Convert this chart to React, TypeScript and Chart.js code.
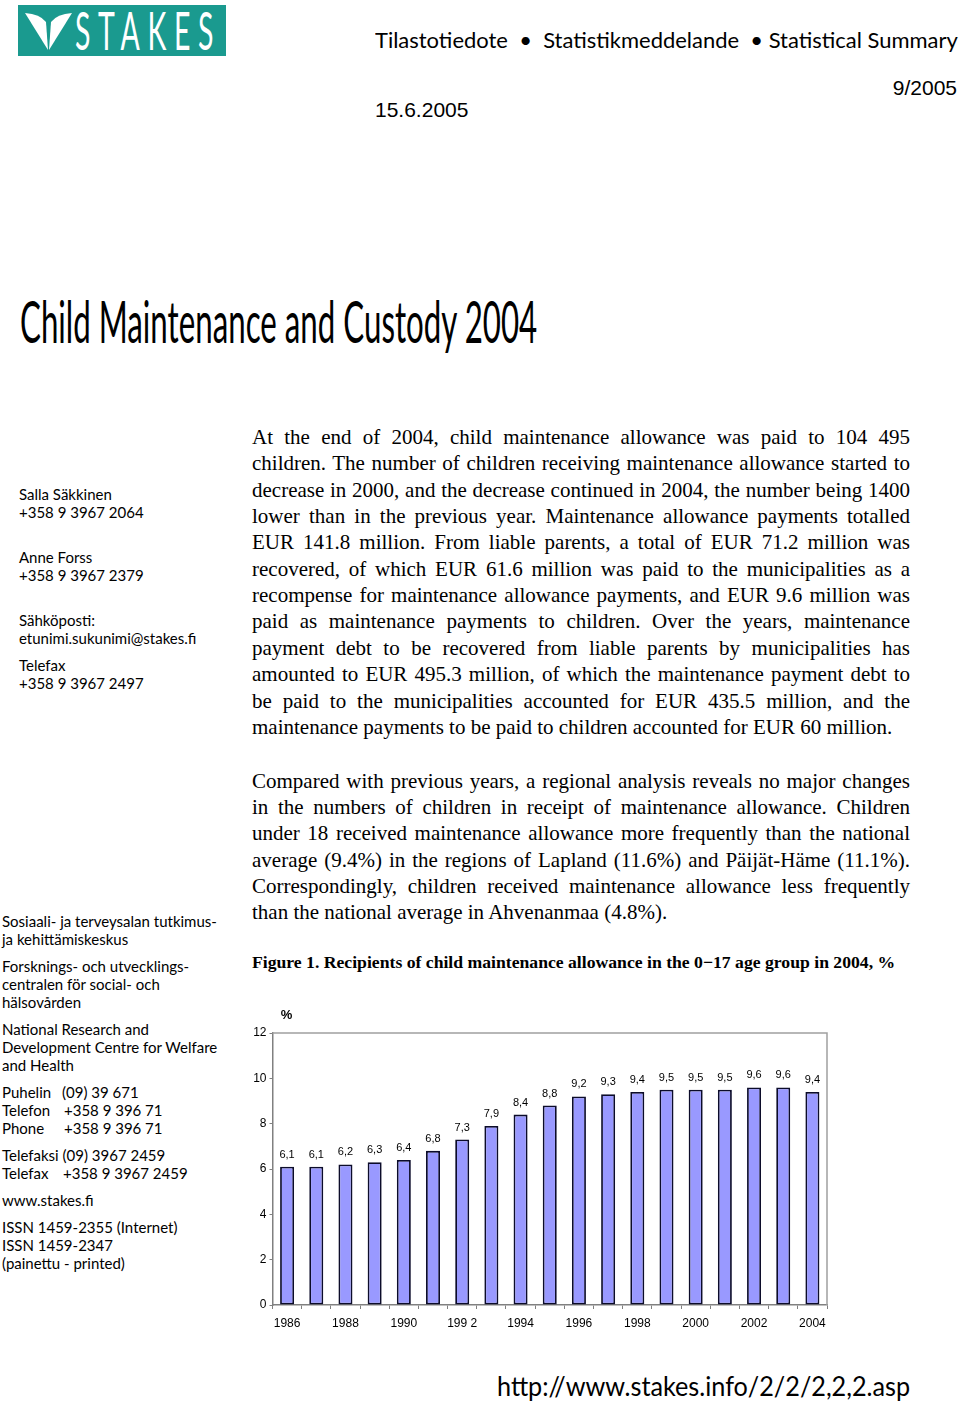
import React, { useEffect, useLayoutEffect, useRef, useState } from 'react';
import { Chart, registerables } from 'chart.js';

Chart.register(...registerables);

// ---- Chart data ----
const years = ['1986', '1987', '1988', '1989', '1990', '1991', '1992', '1993', '1994', '1995', '1996', '1997', '1998', '1999', '2000', '2001', '2002', '2003', '2004'];
const recipientsPct = [6.1, 6.1, 6.2, 6.3, 6.4, 6.8, 7.3, 7.9, 8.4, 8.8, 9.2, 9.3, 9.4, 9.5, 9.5, 9.5, 9.6, 9.6, 9.4];
const xTickLabels = ['1986', '', '1988', '', '1990', '', '199 2', '', '1994', '', '1996', '', '1998', '', '2000', '', '2002', '', '2004'];
const yMin = 0;
const yMax = 12;
const yStep = 2;
const unitLabel = '%';

// ---- Page text ----
const headerSeries = 'Tilastotiedote  •  Statistikmeddelande  • Statistical Summary';
const issueNo = '9/2005';
const dateText = '15.6.2005';
const titleText = 'Child Maintenance and Custody 2004';
const contactLines = [
  ['Salla Säkkinen', 494], ['+358 9 3967 2064', 512],
  ['Anne Forss', 557], ['+358 9 3967 2379', 575],
  ['Sähköposti:', 620], ['etunimi.sukunimi@stakes.fi', 638],
  ['Telefax', 665], ['+358 9 3967 2497', 683],
];
const orgLines = [
  ['Sosiaali- ja terveysalan tutkimus-', 921], ['ja kehittämiskeskus', 939],
  ['Forsknings- och utvecklings-', 966], ['centralen för social- och', 984], ['hälsovården', 1002],
  ['National Research and', 1029], ['Development Centre for Welfare', 1047], ['and Health', 1065],
];
const phoneLines = [
  ['Puhelin', '(09) 39 671', 1092, 60], ['Telefon', '+358 9 396 71', 1110, 62], ['Phone', '+358 9 396 71', 1128, 62],
  ['Telefaksi', '(09) 3967 2459', 1155, 0], ['Telefax', '+358 9 3967 2459', 1173, 61],
];
const tailLines = [
  ['www.stakes.fi', 1200], ['ISSN 1459-2355 (Internet)', 1227], ['ISSN 1459-2347', 1245], ['(painettu - printed)', 1263],
];
const para1 = [
  'At the end of 2004, child maintenance allowance was paid to 104 495',
  'children. The number of children receiving maintenance allowance started to',
  'decrease in 2000, and the decrease continued in 2004, the number being 1400',
  'lower than in the previous year. Maintenance allowance payments totalled',
  'EUR 141.8 million. From liable parents, a total of EUR 71.2 million was',
  'recovered, of which EUR 61.6 million was paid to the municipalities as a',
  'recompense for maintenance allowance payments, and EUR 9.6 million was',
  'paid as maintenance payments to children. Over the years, maintenance',
  'payment debt to be recovered from liable parents by municipalities has',
  'amounted to EUR 495.3 million, of which the maintenance payment debt to',
  'be paid to the municipalities accounted for EUR 435.5 million, and the',
  'maintenance payments to be paid to children accounted for EUR 60 million.',
];
const para2 = [
  'Compared with previous years, a regional analysis reveals no major changes',
  'in the numbers of children in receipt of maintenance allowance.  Children',
  'under 18 received maintenance allowance more frequently than the national',
  'average (9.4%) in the regions of Lapland (11.6%) and Päijät-Häme (11.1%).',
  'Correspondingly, children received maintenance allowance less frequently',
  'than the national average in Ahvenanmaa (4.8%).',
];
const captionText = 'Figure 1. Recipients of child maintenance allowance in the 0\u221217 age group in 2004, %';
const footerUrl = 'http://www.stakes.info/2/2/2,2,2.asp';

const GILL = 'Lato, "Open Sans", sans-serif';
const ARIAL = '"Liberation Sans", Arial, sans-serif';
const TIMES = '"Liberation Serif", "Times New Roman", serif';

function Fit({ w, style, children }: { w: number; style?: React.CSSProperties; children: React.ReactNode }) {
  const ref = useRef<HTMLSpanElement>(null);
  const [s, setS] = useState(1);
  useLayoutEffect(() => {
    if (ref.current) {
      const nat = ref.current.offsetWidth;
      if (nat) setS(w / nat);
    }
  }, [w]);
  return (
    <span
      ref={ref}
      style={{ display: 'inline-block', whiteSpace: 'pre', transform: `scaleX(${s})`, transformOrigin: 'left center', ...style }}
    >
      {children}
    </span>
  );
}

function Line({ x, cy, lh, style, children }: { x: number; cy: number; lh: number; style?: React.CSSProperties; children: React.ReactNode }) {
  return (
    <div style={{ position: 'absolute', left: x, top: cy - lh / 2, height: lh, lineHeight: `${lh}px`, whiteSpace: 'pre', ...style }}>
      {children}
    </div>
  );
}

const valueLabelPlugin = {
  id: 'valueLabels',
  afterDatasetsDraw(chart: any) {
    const ctx = chart.ctx;
    const meta = chart.getDatasetMeta(0);
    const data = chart.data.datasets[0].data as number[];
    ctx.save();
    ctx.font = `11px ${ARIAL}`;
    ctx.fillStyle = '#000';
    ctx.textAlign = 'center';
    ctx.textBaseline = 'middle';
    meta.data.forEach((bar: any, i: number) => {
      ctx.fillText(data[i].toFixed(1).replace('.', ','), bar.x, bar.y - 12);
    });
    ctx.font = `bold 13px ${ARIAL}`;
    ctx.fillText(unitLabel, chart.chartArea.left + 14, chart.chartArea.top - 18);
    ctx.restore();
  },
};

const framePlugin = {
  id: 'frame',
  beforeDatasetsDraw(chart: any) {
    const { left, top, right, bottom } = chart.chartArea;
    const ctx = chart.ctx;
    ctx.save();
    ctx.strokeStyle = '#a0a0a0';
    ctx.lineWidth = 1.5;
    ctx.beginPath();
    ctx.moveTo(left, top);
    ctx.lineTo(right, top);
    ctx.lineTo(right, bottom);
    ctx.stroke();
    ctx.restore();
  },
};

function BarChart() {
  const ref = useRef<HTMLCanvasElement>(null);
  useEffect(() => {
    if (!ref.current) return;
    const chart = new Chart(ref.current, {
      type: 'bar',
      data: {
        labels: years,
        datasets: [
          {
            data: recipientsPct,
            backgroundColor: '#9999ff',
            borderColor: '#0c0c2a',
            borderWidth: 1.8,
            borderSkipped: false,
            barPercentage: 0.48,
            categoryPercentage: 1,
          },
        ],
      },
      options: {
        animation: false,
        responsive: false,
        layout: { padding: { top: 33, right: 13, left: 0, bottom: 0 } },
        plugins: { legend: { display: false }, tooltip: { enabled: false } },
        scales: {
          x: {
            afterFit: (s: any) => { s.height = 40; },
            grid: { drawOnChartArea: false, drawTicks: true, tickLength: 4, color: '#808080', offset: true },
            border: { color: '#808080', width: 1.5 },
            ticks: {
              autoSkip: false,
              maxRotation: 0,
              padding: 7,
              color: '#000',
              font: { family: ARIAL, size: 12 },
              callback: (_v: any, i: number) => xTickLabels[i],
            },
          },
          y: {
            min: yMin,
            max: yMax,
            afterFit: (s: any) => { s.width = 32.5; },
            grid: { drawOnChartArea: false, drawTicks: true, tickLength: 3, color: '#808080' },
            border: { color: '#808080', width: 1.5 },
            ticks: { stepSize: yStep, padding: 3, color: '#000', font: { family: ARIAL, size: 12 } },
          },
        },
      },
      plugins: [framePlugin, valueLabelPlugin],
    } as any);
    return () => chart.destroy();
  }, []);
  return <canvas ref={ref} width={600} height={345} style={{ position: 'absolute', left: 240, top: 1000, width: 600, height: 345 }} />;
}

export default function App() {
  return (
    <div style={{ position: 'absolute', left: 0, top: 0, width: 960, height: 1401, overflow: 'hidden', background: '#fff', color: '#000' }}>
      {/* Logo */}
      <div style={{ position: 'absolute', left: 18, top: 5, width: 208, height: 51, background: '#1a9a8f' }}>
        <svg width={60} height={51} style={{ position: 'absolute', left: 0, top: 0 }}>
          <path d="M7 8 Q22 9 28 17 L30 45 Z" fill="#fff" />
          <path d="M54 8 Q39 9 33 17 L31 45 Z" fill="#fff" />
        </svg>
        <div style={{ position: 'absolute', left: 57, top: 0, height: 51, lineHeight: '51px', color: '#fff' }}>
          <Fit w={146} style={{ fontFamily: GILL, fontSize: 52, letterSpacing: 14 }}>STAKES</Fit>
        </div>
      </div>

      {/* Header */}
      <Line x={375} cy={40} lh={30} style={{ fontFamily: GILL, fontSize: 22 }}>
        <Fit w={583}>{headerSeries}</Fit>
      </Line>
      <div style={{ position: 'absolute', right: 3, top: 88 - 15, height: 30, lineHeight: '30px', fontFamily: ARIAL, fontSize: 21 }}>{issueNo}</div>
      <Line x={375} cy={110} lh={30} style={{ fontFamily: ARIAL, fontSize: 21 }}>{dateText}</Line>

      {/* Title */}
      <Line x={20} cy={321} lh={70} style={{ fontFamily: GILL, fontSize: 58 }}>
        <Fit w={517}>{titleText}</Fit>
      </Line>

      {/* Sidebar contacts */}
      {contactLines.map(([t, y]) => (
        <Line key={String(t)} x={19} cy={y as number} lh={18} style={{ fontFamily: GILL, fontSize: 15 }}>{t}</Line>
      ))}
      {orgLines.map(([t, y]) => (
        <Line key={String(t)} x={2} cy={y as number} lh={18} style={{ fontFamily: GILL, fontSize: 15 }}>{t}</Line>
      ))}
      {phoneLines.map(([a, b, y, w]) => (
        <Line key={String(a) + y} x={2} cy={y as number} lh={18} style={{ fontFamily: GILL, fontSize: 15 }}>
          {(w as number) > 0 ? (
            <>
              <span style={{ display: 'inline-block', width: w as number }}>{a}</span>
              {b}
            </>
          ) : (
            `${a} ${b}`
          )}
        </Line>
      ))}
      {tailLines.map(([t, y]) => (
        <Line key={String(t)} x={2} cy={y as number} lh={18} style={{ fontFamily: GILL, fontSize: 15 }}>{t}</Line>
      ))}

      {/* Body paragraphs */}
      {para1.map((t, i) => (
        <div
          key={'p1' + i}
          style={{
            position: 'absolute', left: 252, top: 437 - 13 + i * 26.35, width: 658, height: 26, lineHeight: '26px',
            fontFamily: TIMES, fontSize: 21, textAlign: 'justify', textAlignLast: i === para1.length - 1 ? 'left' : 'justify',
          }}
        >
          {t}
        </div>
      ))}
      {para2.map((t, i) => (
        <div
          key={'p2' + i}
          style={{
            position: 'absolute', left: 252, top: 781 - 13 + i * 26.2, width: 658, height: 26, lineHeight: '26px',
            fontFamily: TIMES, fontSize: 21, textAlign: 'justify', textAlignLast: i === para2.length - 1 ? 'left' : 'justify',
          }}
        >
          {t}
        </div>
      ))}

      {/* Caption */}
      <Line x={252} cy={963} lh={24} style={{ fontFamily: TIMES, fontSize: 17, fontWeight: 'bold' }}>
        <Fit w={643}>{captionText}</Fit>
      </Line>

      <BarChart />

      {/* Footer */}
      <Line x={497} cy={1386} lh={34} style={{ fontFamily: GILL, fontSize: 26 }}>
        <Fit w={413}>{footerUrl}</Fit>
      </Line>
    </div>
  );
}
